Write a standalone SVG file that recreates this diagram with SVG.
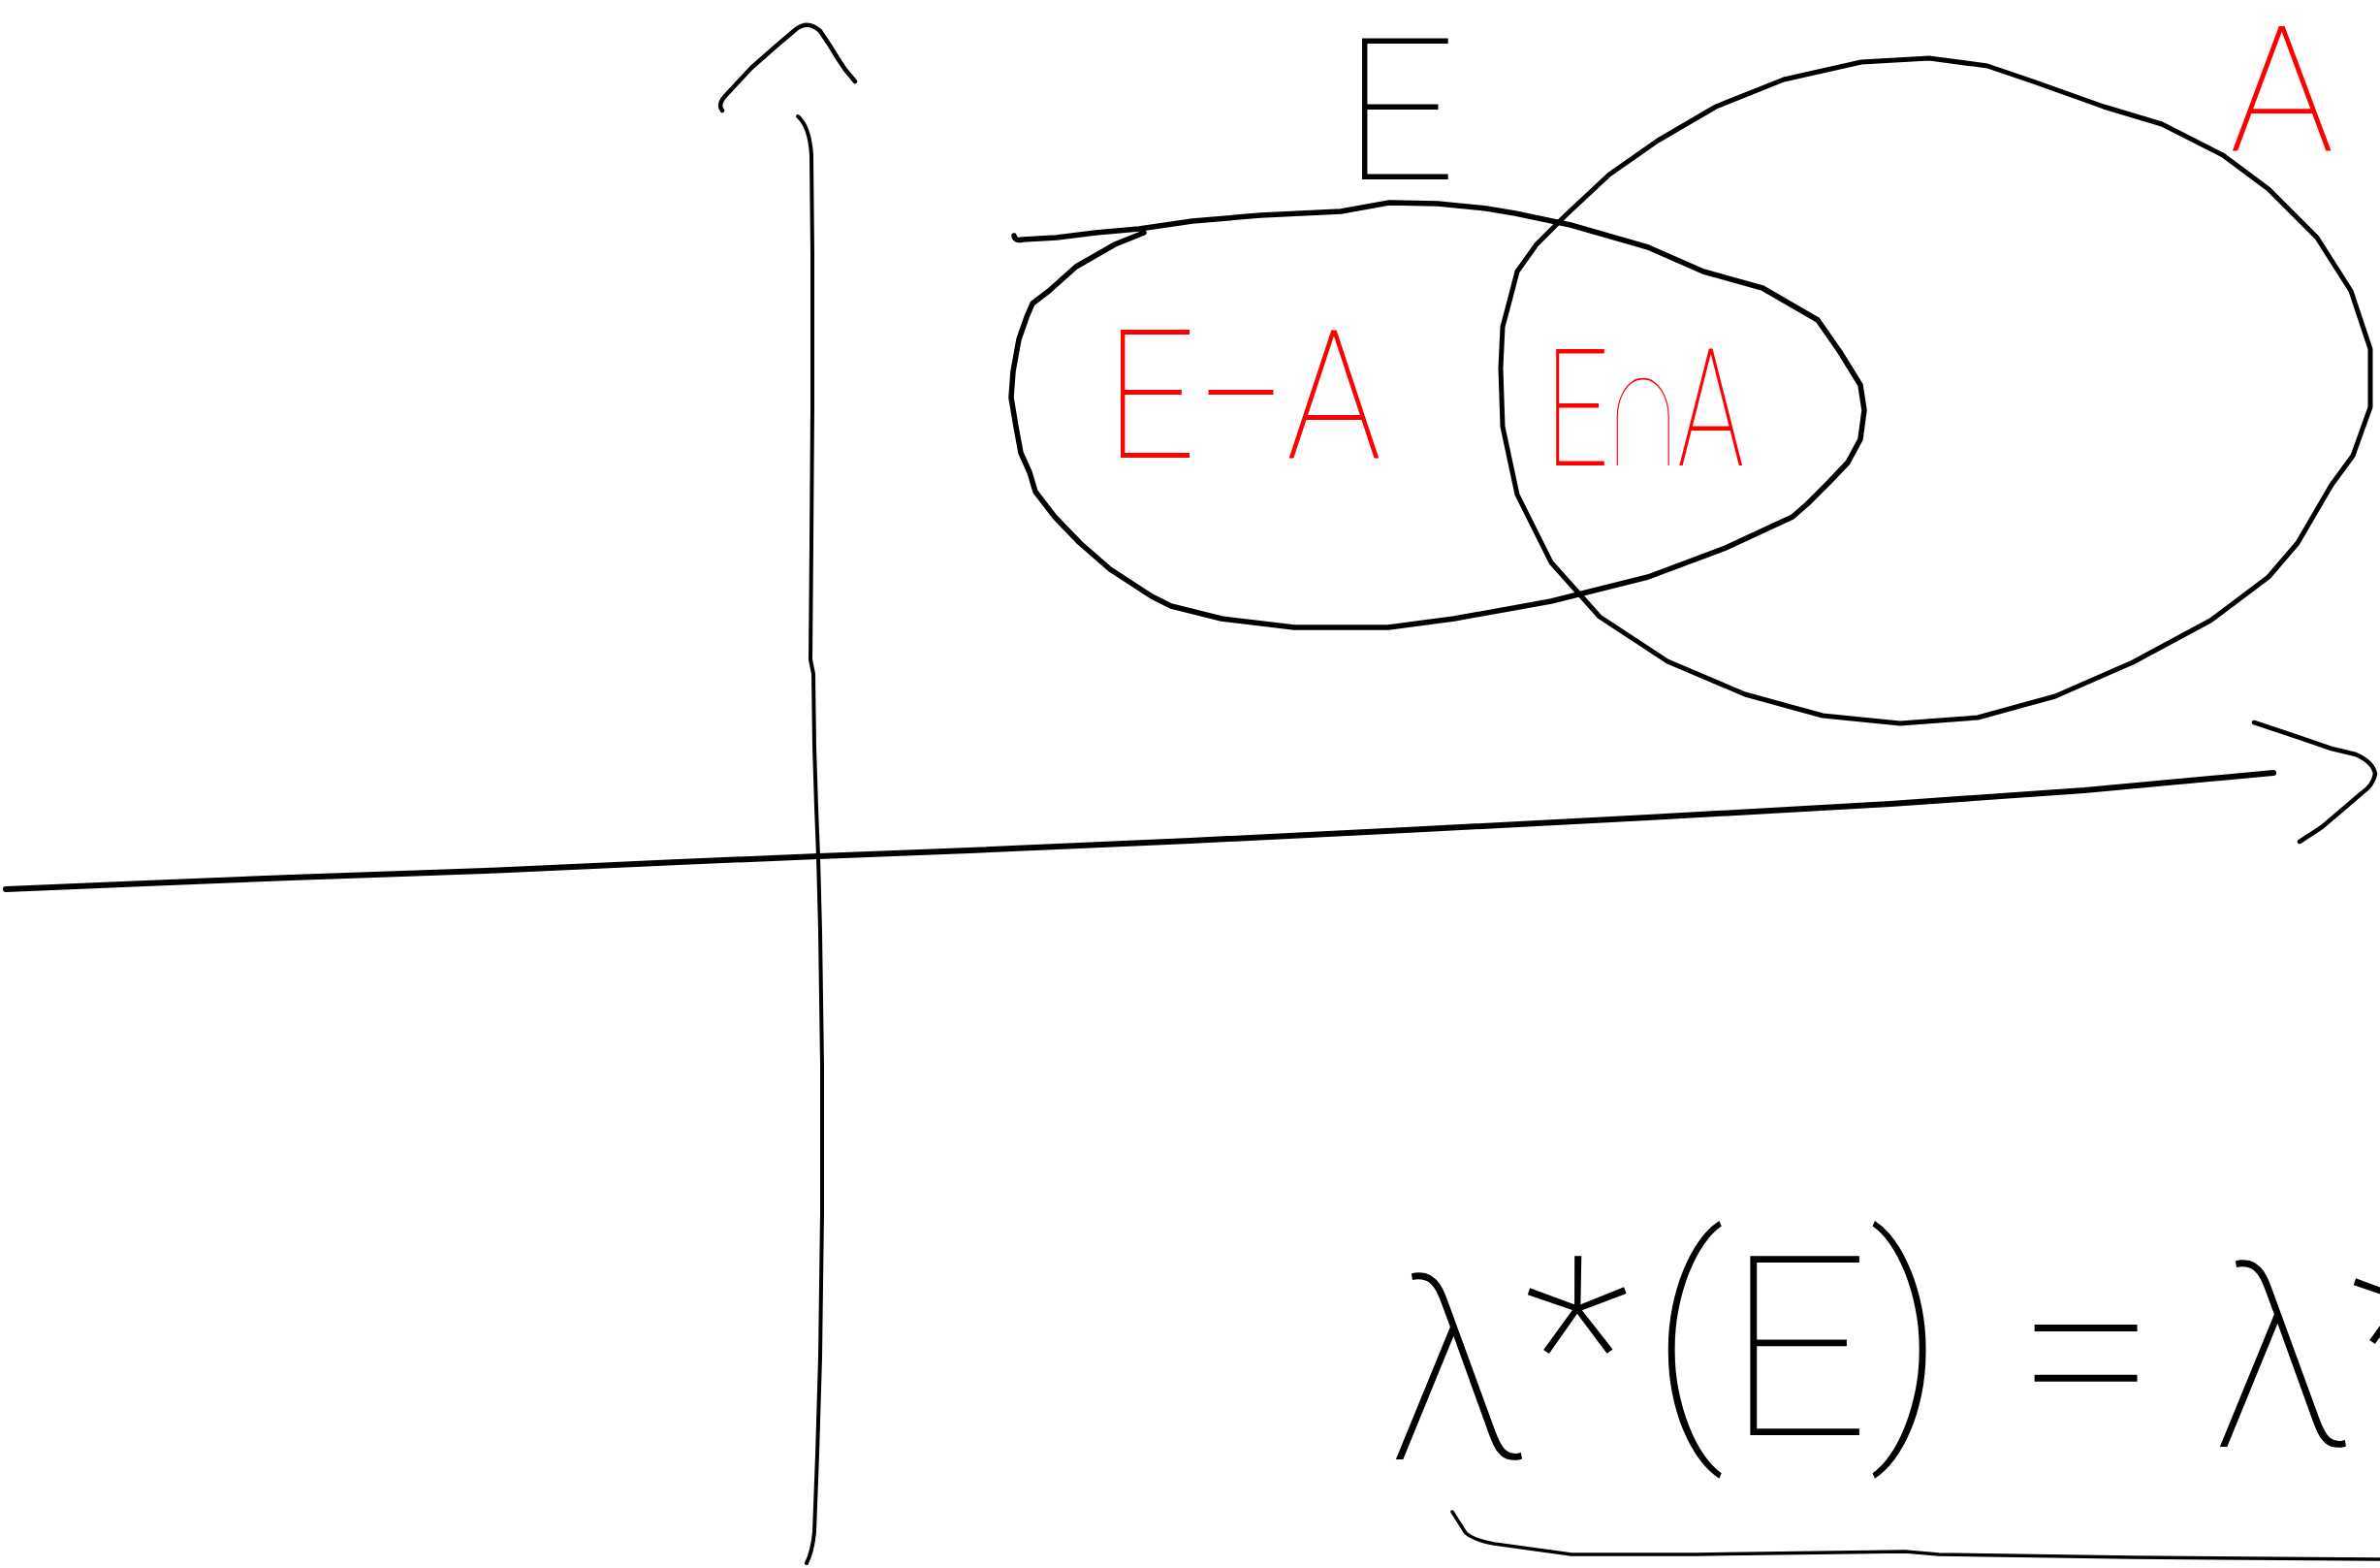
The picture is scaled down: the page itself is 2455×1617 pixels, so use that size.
<svg xmlns="http://www.w3.org/2000/svg" width="2455" height="1617" viewBox="0 0 2455 1617">
<style>
.ink{fill:none;stroke:#000;stroke-linecap:round;stroke-linejoin:round}
.hand{font-family:Roboto,Lato,"Liberation Sans","DejaVu Sans",sans-serif;font-weight:100}
.red{fill:#ff0000}
.blk{fill:#000}
</style>
<rect width="2455" height="1617" fill="#fff"/>
<g id="axes">
  <g id="y-axis">
    <path class="ink" stroke-width="4.5" d="M745,114 Q740,108 748,99 L775,70 L800,48 L820,31 Q833,20 846,32 L856,47 L864,60 L872,72 L882,84"/>
    <path class="ink" stroke-width="4" d="M823,120 Q835,130 837,160 L838,260 L838,420 L837,560 L836,680 L839,695 L840,770 L842,833 L844,883 L846,960 L848,1100 L848,1250 L846,1400 L843,1500 L840,1580 Q838,1600 832,1612"/>
  </g>
  <g id="x-axis">
    <path class="ink" stroke-width="6" d="M6,917 L150,911 L300,905 L501,898 L700,889 L844,883 L1000,877 L1228,867 L1450,856 L1700,843 L1950,829 L2150,815 L2345,797"/>
    <path class="ink" stroke-width="4.5" d="M2325,745 L2370,760 L2405,772 L2430,778 Q2448,786 2450,798 Q2448,810 2436,818 L2415,836 L2395,853 L2372,868"/>
  </g>
</g>
<g id="set-E">
  <path class="ink" stroke-width="5.5" d="M1046,243 Q1047,249 1055,247 L1090,245 L1130,240 L1175,236 L1230,228 L1300,222 L1383,218 L1433,209 L1483,210 L1533,215 L1563,220 L1620,232 L1700,255 L1757,280 L1818,297 L1875,330 L1898,363 L1919,397 L1923,423 L1919,453 L1906,477 L1887,497 L1864,520 L1849,533 L1780,565 L1700,595 L1600,620 L1500,638 L1432,647 L1335,647 L1260,638 L1208,625 L1188,615 L1145,587 L1114,560 L1088,533 L1068,507 L1062,487 L1053,467 L1048,440 L1043,410 L1045,383 L1051,350 L1059,327 L1065,313 L1082,300 L1110,275 L1150,252 L1180,240"/>
  <text class="hand blk" x="1385" y="185" font-size="205">E</text>
</g>
<g id="set-A">
  <path class="ink" stroke-width="5" d="M1550,337 L1558,307 L1565,280 L1585,252 L1615,222 L1660,180 L1710,145 L1770,110 L1840,82 L1920,64 L1990,60 L2050,68 L2100,85 L2170,110 L2230,128 L2293,160 L2340,195 L2390,245 L2425,300 L2445,360 L2445,420 L2427,470 L2405,500 L2370,560 L2340,595 L2280,640 L2200,683 L2120,718 L2040,740 L1960,746 L1880,738 L1800,716 L1720,682 L1650,636 L1600,580 L1565,510 L1550,440 L1548,380 Z"/>
  <text class="hand red" x="2300" y="155" font-size="180">A</text>
</g>
<g id="region-labels">
  <text class="hand red" x="1140" y="472" font-size="185" textLength="285" lengthAdjust="spacingAndGlyphs">E−A</text>
  <text class="hand red" x="1594" y="480" font-size="168" textLength="205" lengthAdjust="spacingAndGlyphs">E∩A</text>
</g>
<g id="formula">
  <text class="hand blk" font-size="260"><tspan x="1432" y="1505">λ</tspan><tspan x="1572" y="1480">*</tspan><tspan x="1702" y="1465">(</tspan><tspan x="1780" y="1480">E</tspan><tspan x="1928" y="1465">)</tspan><tspan x="2080" y="1480">=</tspan><tspan x="2282" y="1492">λ</tspan><tspan x="2424" y="1470">*</tspan></text>
  <path class="ink" stroke-width="3.5" d="M1498,1559 L1512,1581 Q1520,1588 1541,1592 L1621,1603 L1750,1603 L1893,1601 L1965,1600 L2000,1603 L2200,1606 L2455,1608"/>
</g>
</svg>
